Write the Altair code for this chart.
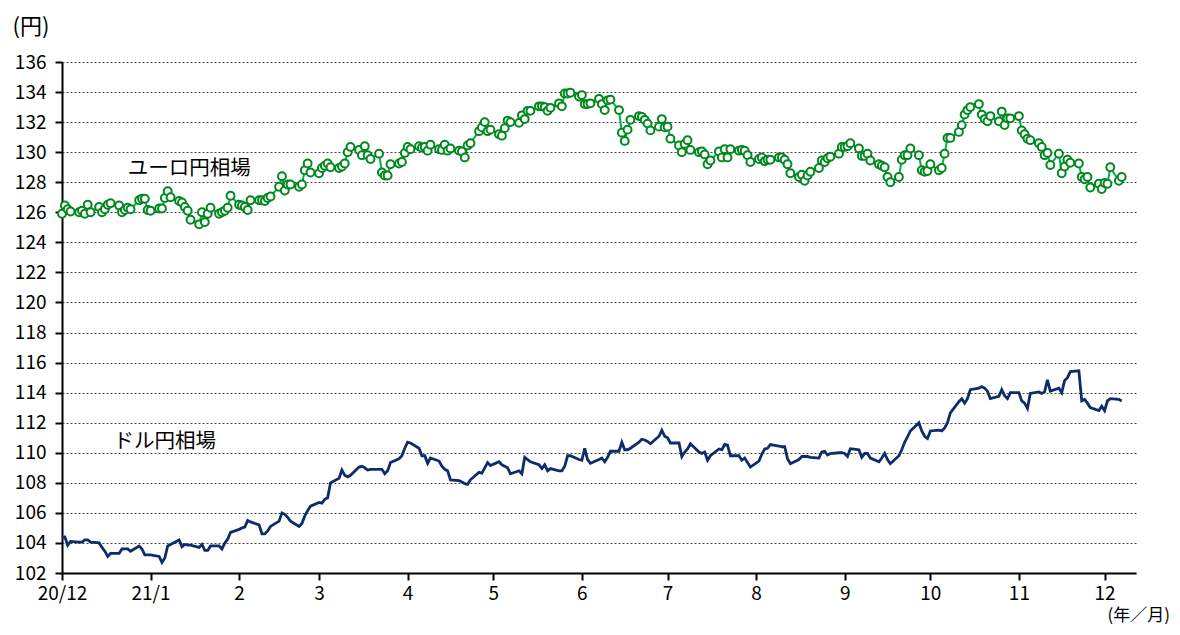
import altair as alt
import pandas as pd

# month keys (year, month) for business-day series
months = [(2020, 12), (2021, 1), (2021, 2), (2021, 3), (2021, 4), (2021, 5), (2021, 6),
          (2021, 7), (2021, 8), (2021, 9), (2021, 10), (2021, 11), (2021, 12)]

# ドル円相場 (USD/JPY) by month, business days
usd_dec20 = [104.35, 104.4, 103.85, 104.1, 104.05, 104.05, 104.2, 104.2, 104.05, 104.0, 103.7, 103.45,
             103.1, 103.3, 103.3, 103.6, 103.6, 103.6, 103.45, 103.8, 103.6, 103.2, 103.2]
usd_jan = [103.2, 103.1, 102.7, 103.0, 103.8, 103.9, 104.2, 103.75, 103.9, 103.85, 103.85, 103.7,
           103.9, 103.5, 103.5, 103.8, 103.8, 103.6, 104.0, 104.25, 104.7]
usd_feb = [104.9, 105.0, 105.05, 105.5, 105.4, 105.2, 104.6, 104.6, 104.8, 105.1, 105.45, 106.0,
           105.9, 105.7, 105.45, 105.1, 105.3, 105.8, 106.15, 106.45]
usd_mar = [106.7, 106.65, 106.9, 107.0, 108.0, 108.3, 108.85, 108.5, 108.4, 108.5, 109.05, 109.1,
           109.0, 108.85, 108.9, 108.9, 108.9, 108.6, 108.8, 109.35, 109.6, 109.8, 110.3]
usd_apr = [110.7, 110.65, 110.3, 109.8, 109.8, 109.3, 109.65, 109.45, 109.1, 108.9, 108.8, 108.2,
           108.15, 108.05, 107.95, 107.9, 108.2, 108.7, 108.65, 109.0, 109.35, 109.15]
usd_may = [109.4, 109.2, 109.1, 109.0, 108.6, 108.8, 108.6, 109.7, 109.55, 109.4, 109.2, 108.95,
           109.2, 108.8, 108.95, 108.8, 108.8, 109.1, 109.8, 109.8, 109.55]
usd_jun = [109.5, 110.3, 109.55, 109.3, 109.55, 109.65, 109.4, 109.7, 110.1, 110.1, 110.7, 110.2,
           110.2, 110.3, 110.7, 110.9, 110.85, 110.75, 110.6, 111.1, 111.5, 111.1]
usd_jul = [111.0, 110.65, 110.65, 109.75, 110.05, 110.25, 110.6, 110.05, 109.95, 110.05, 109.5, 109.8,
           110.25, 110.2, 110.55, 110.5, 109.8, 109.8, 109.5, 109.65, 109.35, 109.05]
usd_aug = [109.45, 109.9, 110.25, 110.3, 110.55, 110.45, 110.4, 110.4, 109.6, 109.27, 109.55, 109.75,
           109.75, 109.75, 109.7, 109.65, 110.05, 110.1, 109.85, 109.95, 110.0, 110.0]
usd_sep = [109.95, 109.75, 110.27, 110.2, 109.7, 109.95, 109.95, 109.65, 109.4, 109.65, 109.95, 109.55,
           109.27, 109.8, 110.2, 110.7, 111.05, 111.45, 112.0, 111.45, 111.1, 110.95]
usd_oct = [111.45, 111.5, 111.45, 111.65, 112.0, 112.65, 113.4, 113.6, 113.3, 113.6, 114.2, 114.3,
           114.4, 114.3, 114.1, 113.6, 113.75, 114.2, 113.8, 113.6, 114.0]
usd_nov = [114.0, 113.45, 113.3, 112.95, 113.95, 114.05, 113.95, 114.05, 114.85, 114.1, 114.3, 114.0,
           114.8, 115.0, 115.4, 115.45, 113.45, 113.55, 113.3, 113.0, 112.8, 113.1]
usd_dec21 = [112.8, 113.45, 113.6, 113.55, 113.45]

# ユーロ円相場 (EUR/JPY) by month, business days
eur_dec20 = [125.9, 126.45, 126.2, 126.05, 126.0, 126.1, 125.9, 126.5, 126.0, 126.35, 126.0, 126.2,
             126.5, 126.6, 126.45, 126.0, 126.15, 126.3, 126.2, 126.8, 126.9, 126.9, 126.15]
eur_jan = [126.1, 126.25, 126.25, 126.95, 127.4, 127.0, 126.75, 126.65, 126.35, 126.1, 125.5, 125.2,
           126.0, 125.35, 125.9, 126.3, 125.9, 126.0, 126.1, 126.3, 127.1]
eur_feb = [126.5, 126.45, 126.35, 126.15, 126.8, 126.8, 126.8, 126.75, 126.95, 127.05, 127.7, 128.4,
           127.45, 127.85, 127.85, 127.7, 127.85, 128.8, 129.25, 128.65]
eur_mar = [128.6, 128.95, 129.1, 129.25, 129.0, 128.95, 129.05, 129.25, 130.0, 130.35, 130.15, 129.8,
           130.4, 129.8, 129.55, 129.9, 128.65, 128.45, 128.45, 129.2, 129.25, 129.35, 129.95]
eur_apr = [130.35, 130.2, 130.4, 130.3, 130.35, 130.1, 130.5, 130.2, 130.15, 130.5, 130.1, 130.25,
           130.1, 130.05, 129.65, 130.45, 130.6, 131.4, 131.65, 132.0, 131.4, 131.5]
eur_may = [131.2, 131.1, 131.6, 132.1, 132.0, 131.95, 132.45, 132.2, 132.75, 132.75, 133.05, 133.05,
           133.0, 132.75, 132.95, 133.25, 133.05, 133.9, 133.9, 133.95, 133.7]
eur_jun = [133.8, 133.2, 133.2, 133.25, 133.55, 133.2, 132.8, 133.45, 133.5, 132.8, 131.3, 130.75,
           131.5, 132.15, 132.4, 132.35, 132.15, 131.9, 131.45, 131.7, 132.2, 131.65]
eur_jul = [131.7, 130.9, 130.45, 130.0, 130.55, 130.8, 130.15, 130.0, 130.05, 129.85, 129.2, 129.45,
           130.05, 129.65, 130.2, 129.65, 130.2, 130.1, 130.15, 130.1, 129.8, 129.35]
eur_aug = [129.55, 129.65, 129.4, 129.5, 129.5, 129.65, 129.65, 129.5, 129.2, 128.6, 128.35, 128.5,
           128.1, 128.45, 128.7, 128.95, 129.45, 129.35, 129.6, 129.7, 129.9, 130.35]
eur_sep = [130.35, 130.4, 130.6, 130.25, 129.75, 129.75, 129.9, 129.45, 129.2, 129.1, 129.0, 128.35,
           128.0, 128.35, 129.5, 129.8, 129.8, 130.25, 129.8, 128.8, 128.7, 128.75]
eur_oct = [129.2, 128.8, 128.95, 129.9, 130.95, 130.95, 131.35, 131.8, 132.5, 132.8, 133.0, 133.2,
           132.5, 132.2, 132.05, 132.4, 132.05, 132.7, 131.8, 132.25, 132.25]
eur_nov = [132.4, 131.45, 131.2, 130.9, 130.8, 130.6, 130.35, 129.8, 129.95, 129.15, 129.9, 128.6,
           129.05, 129.5, 129.3, 129.25, 128.35, 128.2, 128.35, 127.65, 127.9, 127.55]
eur_dec21 = [127.95, 127.9, 129.0, 128.1, 128.35]

usd_months = [usd_dec20, usd_jan, usd_feb, usd_mar, usd_apr, usd_may, usd_jun,
              usd_jul, usd_aug, usd_sep, usd_oct, usd_nov, usd_dec21]
eur_months = [eur_dec20, eur_jan, eur_feb, eur_mar, eur_apr, eur_may, eur_jun,
              eur_jul, eur_aug, eur_sep, eur_oct, eur_nov, eur_dec21]

# series labels
label_text = ["ユーロ円相場", "ドル円相場"]
label_date = ["2020-12-24", "2020-12-19"]
label_value = [128.88, 110.72]

FONT = "Noto Sans CJK JP"


def build(month_lists):
    rows = []
    for (yy, mm), vals in zip(months, month_lists):
        days = pd.bdate_range(f"{yy}-{mm:02d}-01", periods=len(vals))
        for d, v in zip(days, vals):
            rows.append({"date": d.strftime("%Y-%m-%d"), "value": v})
    return pd.DataFrame(rows)


usd_df = build(usd_months)
eur_df = build(eur_months)
lab_df = pd.DataFrame({"text": label_text, "date": label_date, "value": label_value})

tick_vals = [alt.DateTime(year=y, month=m, date=1, utc=True) for (y, m) in months]

label_expr = ("utcyear(datum.value)==2020 ? '20/12' : "
              "(utcmonth(datum.value)==0 ? '21/1' : '' + (utcmonth(datum.value)+1))")

x_enc = alt.X(
    "date:T",
    scale=alt.Scale(type="utc", domain=[alt.DateTime(year=2020, month=12, date=1, utc=True),
                                         alt.DateTime(year=2021, month=12, date=12, utc=True)]),
    axis=alt.Axis(values=tick_vals, tickCount=40, labelExpr=label_expr, grid=False, title="(年／月)",
                  titleAngle=0, titleX=1045, titleY=51, titleAlign="left", titleBaseline="bottom",
                  titleFont=FONT, titleFontSize=17, titleFontWeight="normal", titleColor="#000000",
                  labelFont=FONT, labelFontSize=19, labelColor="#000000", labelPadding=4,
                  tickSize=7, tickColor="#000000", tickWidth=2,
                  domainColor="#000000", domainWidth=2, labelOverlap=False, labelFlush=False),
)

y_enc = alt.Y(
    "value:Q",
    scale=alt.Scale(domain=[102, 136], nice=False, zero=False),
    axis=alt.Axis(values=list(range(102, 137, 2)), tickCount=40, grid=True, gridDash=[2, 2],
                  gridColor="#444444", gridWidth=1, title="(円)", titleAngle=0, titleX=-50, titleY=-36,
                  titleAlign="left", titleBaseline="middle", titleFont=FONT, titleFontSize=22,
                  titleFontWeight="normal", titleColor="#000000",
                  labelFont=FONT, labelFontSize=19, labelColor="#000000", labelPadding=9,
                  labelOverlap=False, labelBaseline="middle",
                  tickSize=7, tickColor="#000000", tickWidth=2,
                  domainColor="#000000", domainWidth=2),
)

usd_line = alt.Chart(usd_df).mark_line(color="#0c2c6c", strokeWidth=2.8).encode(x=x_enc, y=y_enc)
eur_line = alt.Chart(eur_df).mark_line(color="#00b050", strokeWidth=2).encode(x="date:T", y="value:Q")
eur_pts = alt.Chart(eur_df).mark_point(shape="circle", filled=True, fill="white", fillOpacity=1,
                                       stroke="#00881e", strokeWidth=2, size=62, opacity=1).encode(
    x="date:T", y="value:Q")
labels = alt.Chart(lab_df).mark_text(align="left", baseline="middle", font=FONT, fontSize=20.5,
                                     color="#000000").encode(x="date:T", y="value:Q", text="text:N")

chart = alt.layer(usd_line, eur_line, eur_pts, labels).properties(
    width=1074, height=511,
    autosize=alt.AutoSizeParams(type="none"),
    padding={"left": 54, "top": 54, "right": 36, "bottom": 54},
    background="white",
).configure_view(stroke=None)

chart.save("out.html", embed_options={"renderer": "svg", "actions": False})
